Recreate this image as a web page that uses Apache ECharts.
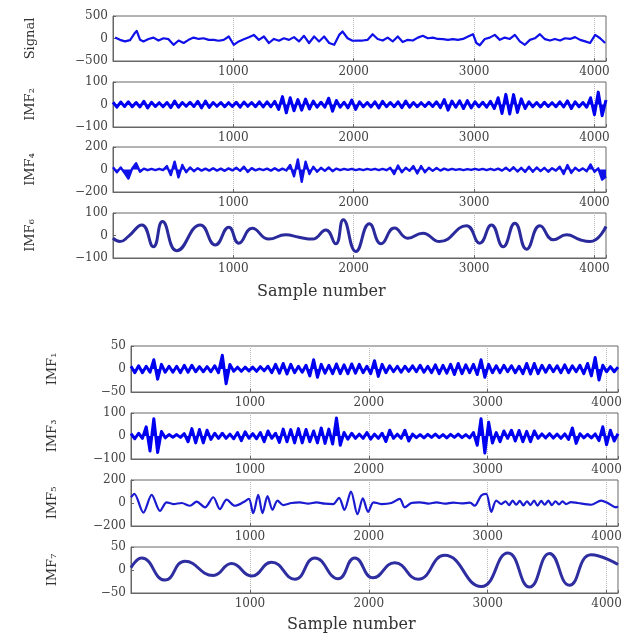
<!DOCTYPE html>
<html>
<head>
<meta charset="utf-8">
<script src="https://cdn.jsdelivr.net/npm/echarts@6/dist/echarts.min.js"></script>
<style>
html, body { margin: 0; padding: 0; background: #fff; }
#chartmain { width: 636px; height: 633px; }
</style>
</head>
<body>
<div id="chartmain"></div>
<script>
// x axis
var xTicks = [1000, 2000, 3000, 4000];
var sampleMax = 4096;
var step = 32; // sample spacing of the dense IMF arrays

// original signal, read at irregular sample positions
var signalSamples = [17,58,100,142,178,197,225,253,295,336,378,420,461,503,545,587,628,670,712,753,795,837,878,920,962,1003,1045,1087,1129,1170,1212,1254,1295,1337,1379,1420,1462,1504,1545,1587,1629,1671,1712,1754,1796,1838,1879,1907,1949,1990,2032,2074,2116,2157,2199,2241,2282,2324,2366,2407,2449,2491,2533,2574,2616,2658,2699,2741,2783,2824,2866,2908,2950,2991,3019,3047,3089,3130,3172,3214,3255,3297,3339,3380,3422,3464,3505,3547,3589,3631,3672,3714,3756,3797,3839,3881,3923,3964,4006,4047,4089];
var signalValues = [20,-30,-65,-35,110,170,-30,-65,-10,20,-45,5,-15,-140,-45,-100,-30,20,-10,5,-30,-30,-50,-30,45,-140,-65,-15,30,80,-30,45,-100,-10,-50,5,-30,30,-65,60,-100,45,-65,45,-100,-140,80,155,5,-50,-45,-45,-30,95,-10,-45,20,-65,45,-80,-30,-45,20,60,5,20,-10,-15,-30,-15,-30,-10,45,95,-100,-150,-10,20,80,-30,20,-10,80,-65,-140,-30,5,95,-15,-45,-10,-45,5,-10,30,-30,-65,-100,80,5,-100];

// dense IMFs, one value every 32 samples
var imf2Values = [10,-12,11,-9,12,-10,9,-11,14,-15,10,-9,8,-10,9,-14,15,-12,9,-8,10,-9,14,-15,15,-13,9,-8,9,-10,8,-9,10,-12,11,-8,9,-10,12,-11,12,-10,14,-22,35,-37,30,-28,22,-25,24,-20,15,-12,10,-12,28,-30,18,-12,10,-15,20,-22,12,-10,9,-11,12,-15,14,-10,9,-10,12,-14,15,-12,9,-10,8,-9,10,-9,12,-14,22,-25,15,-12,16,-18,17,-15,12,-10,10,-12,14,-18,30,-40,45,-42,44,-35,25,-18,12,-10,9,-11,10,-9,8,-10,12,-11,16,-18,12,-10,9,-12,30,-45,55,-50,20];
var imf4Values = [20,-25,18,-30,-80,10,55,-20,8,-6,5,-5,6,-5,30,-50,70,-70,40,-25,18,-15,12,-10,8,-10,12,-10,8,-12,10,-8,15,-12,25,-22,12,-8,6,-5,8,-10,12,-10,8,-9,40,-60,90,-110,70,-40,25,-20,15,-12,18,-15,8,-6,5,-4,5,-5,4,-5,5,-4,6,-5,5,-6,15,-40,35,-25,15,-12,30,-35,30,-25,15,-12,14,-10,8,-6,5,-4,4,-5,4,-4,5,-4,5,-5,6,-5,8,-10,15,-12,20,-18,15,-22,25,-20,18,-15,15,-20,12,-10,25,-40,40,-30,15,-12,10,-15,45,-20,10,-90,-60];
var imf1Values = [6,-8,7,-8,6,-7,20,-22,10,-7,6,-7,6,-8,8,-7,8,-6,5,-6,5,-6,7,-8,30,-32,10,-5,4,-5,4,-4,4,-5,5,-4,6,-8,10,-9,12,-11,10,-8,6,-7,8,-15,20,-18,10,-9,8,-10,11,-10,9,-10,11,-9,10,-8,6,-10,18,-16,10,-8,7,-6,6,-7,6,-5,7,-6,8,-7,6,-8,9,-10,8,-9,10,-12,12,-10,9,-8,10,-12,20,-18,10,-8,7,-8,8,-6,7,-8,6,-10,12,-11,12,-10,8,-7,8,-6,7,-8,9,-8,7,-6,8,-10,12,-15,25,-24,8,-6,5,-6,4];
var imf3Values = [10,-12,12,-10,40,-65,75,-72,20,-8,6,-5,6,-6,10,-25,32,-30,28,-30,25,-15,12,-10,12,-10,8,-12,15,-20,18,-10,10,-12,15,-25,22,-10,12,-28,30,-25,28,-30,32,-30,28,-25,22,-30,35,-32,30,-35,78,-40,15,-14,12,-10,8,-10,15,-14,8,-10,12,-24,25,-10,8,-10,25,-22,8,-7,6,-8,7,-6,8,-7,6,-8,7,-6,8,-7,6,-8,15,-40,75,-74,60,-30,15,-25,22,-10,25,-22,24,-25,20,-25,22,-10,9,-8,10,-9,8,-10,9,-15,35,-32,10,-8,7,-8,9,-20,40,-38,25,-22,10];

// smoother IMFs, read at their turning points
var imf6Samples = [0,58,128,240,336,411,530,725,850,962,1045,1156,1295,1434,1545,1657,1768,1851,1913,2018,2130,2227,2338,2449,2574,2713,2936,3047,3144,3241,3339,3436,3547,3658,3769,3881,3964,4096];
var imf6Values = [-12,-27,-4,47,-50,62,-68,47,-42,37,-34,32,-16,3,-8,-16,25,-37,70,-71,52,-37,33,-12,10,-27,43,-34,47,-50,55,-61,43,-19,3,-19,-27,40];
var imf5Samples = [0,28,104,174,244,300,356,426,496,552,622,692,748,804,874,944,991,1028,1070,1106,1148,1190,1232,1280,1350,1420,1490,1560,1630,1700,1750,1795,1850,1905,1950,1995,2040,2106,2190,2260,2302,2358,2430,2500,2570,2640,2710,2780,2850,2890,2946,2988,3030,3072,3114,3150,3180,3210,3240,3270,3300,3330,3360,3390,3420,3450,3480,3510,3540,3570,3600,3630,3660,3700,3758,3870,3954,4010,4080,4096];
var imf5Values = [50,80,-83,71,-68,6,-9,0,-24,12,-38,50,-53,30,-24,6,36,-89,71,-89,59,-59,21,-18,0,5,-5,5,-6,-10,45,-60,100,-98,40,-77,6,-9,0,36,-38,0,6,-5,5,-5,4,-4,3,-24,65,80,-77,21,-9,15,-18,20,-15,18,-20,15,-18,20,-22,18,-15,20,-18,15,-12,14,-10,8,0,-15,21,0,-38,-30];
var imf7Samples = [0,90,286,454,692,846,1014,1182,1378,1546,1742,1882,2036,2218,2414,2638,2946,3170,3352,3520,3688,3870,4096];
var imf7Values = [5,26,-22,19,-12,14,-13,17,-20,26,-19,26,-17,16,-20,32,-36,37,-37,36,-33,33,12];

function dense(vals) {
	return vals.map(function(v, i) { return [i * step, v]; });
}
function pairs(xs, vals) {
	return xs.map(function(x, i) { return [x, vals[i]]; });
}

var panels = [
	{ name: 'Signal', lim: 500, data: pairs(signalSamples, signalValues), color: '#1010e8', width: 2.2, smooth: false, fill: false },
	{ name: 'IMF\u2082', lim: 100, data: dense(imf2Values), color: '#0000f0', width: 3, smooth: false, fill: true },
	{ name: 'IMF\u2084', lim: 200, data: dense(imf4Values), color: '#1010e8', width: 2.4, smooth: false, fill: true },
	{ name: 'IMF\u2086', lim: 100, data: pairs(imf6Samples, imf6Values), color: '#2a2a9c', width: 3, smooth: true, fill: false },
	{ name: 'IMF\u2081', lim: 50, data: dense(imf1Values), color: '#0000f0', width: 3, smooth: false, fill: true },
	{ name: 'IMF\u2083', lim: 100, data: dense(imf3Values), color: '#0000f0', width: 3, smooth: false, fill: true },
	{ name: 'IMF\u2085', lim: 200, data: pairs(imf5Samples, imf5Values), color: '#1a1ad0', width: 2.2, smooth: 0.3, fill: false },
	{ name: 'IMF\u2087', lim: 50, data: pairs(imf7Samples, imf7Values), color: '#2e2ea0', width: 3, smooth: true, fill: false }
];

var tops = [16, 82, 147, 213, 346, 413, 480, 547];
var serif = 'DejaVu Serif';
var grid = [], xAxis = [], yAxis = [], series = [];

panels.forEach(function(p, k) {
	var upper = k < 4;
	grid.push({
		left: upper ? 113 : 131,
		width: upper ? 493 : 487,
		top: tops[k],
		height: upper ? 45 : 46,
		show: true,
		borderColor: '#666',
		borderWidth: 1
	});
	xAxis.push({
		gridIndex: k,
		type: 'value',
		min: 0,
		max: sampleMax,
		interval: 1000,
		axisLine: { show: true, onZero: false, lineStyle: { color: '#666' } },
		axisTick: { inside: true, length: 3, lineStyle: { color: '#666' } },
		axisLabel: {
			margin: 5,
			fontFamily: serif,
			fontSize: 12,
			color: '#444',
			formatter: function(v) { return xTicks.indexOf(v) >= 0 ? String(v) : ''; }
		},
		splitLine: { show: true, lineStyle: { type: 'dotted', color: '#b8b8b8' } }
	});
	yAxis.push({
		gridIndex: k,
		type: 'value',
		min: -p.lim,
		max: p.lim,
		interval: p.lim,
		name: p.name,
		nameLocation: 'middle',
		nameRotate: 90,
		nameGap: upper ? 76 : 72,
		nameTextStyle: { fontFamily: serif, fontSize: 13, color: '#333' },
		axisLine: { show: true, onZero: false, lineStyle: { color: '#666' } },
		axisTick: { inside: true, length: 3, lineStyle: { color: '#666' } },
		axisLabel: {
			margin: 5,
			fontFamily: serif,
			fontSize: 12,
			color: '#444',
			formatter: function(v) { return v < 0 ? '\u2212' + (-v) : String(v); }
		},
		splitLine: { show: false }
	});
	var s = {
		type: 'line',
		xAxisIndex: k,
		yAxisIndex: k,
		data: p.data,
		showSymbol: false,
		smooth: p.smooth,
		animation: false,
		lineStyle: { color: p.color, width: p.width, join: 'round' },
		itemStyle: { color: p.color }
	};
	if (p.fill) {
		s.areaStyle = { color: p.color, opacity: 1, origin: 0 };
	}
	series.push(s);
});

var option = {
	backgroundColor: '#fff',
	animation: false,
	grid: grid,
	xAxis: xAxis,
	yAxis: yAxis,
	series: series,
	graphic: [
		{ type: 'text', left: 322 - 65, top: 284, style: { text: 'Sample number', fontFamily: serif, fontSize: 16, fill: '#333' } },
		{ type: 'text', left: 352 - 65, top: 617, style: { text: 'Sample number', fontFamily: serif, fontSize: 16, fill: '#333' } }
	]
};

var myChart = echarts.init(document.getElementById('chartmain'));
myChart.setOption(option);
</script>
</body>
</html>
